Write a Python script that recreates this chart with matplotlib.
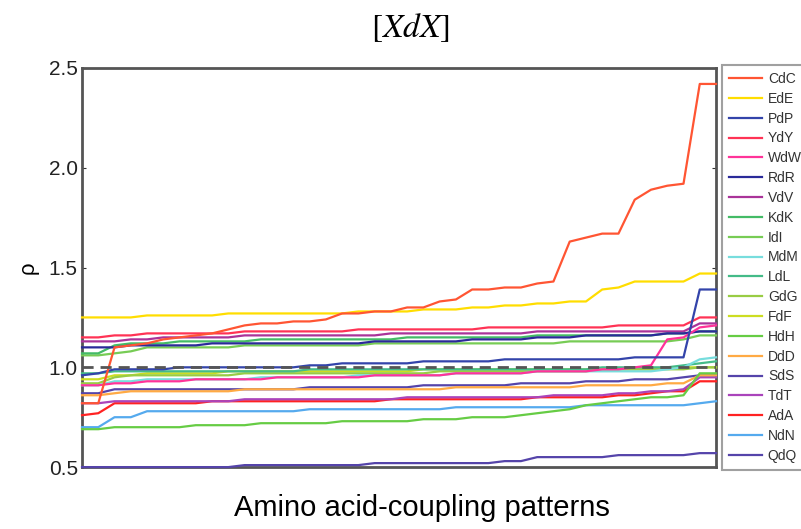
import numpy as np
import matplotlib.pyplot as plt

plt.rcParams['font.family'] = ['Liberation Sans', 'DejaVu Sans']
plt.rcParams['mathtext.fontset'] = 'stix'

LABELS = ['CdC', 'EdE', 'PdP', 'YdY', 'WdW', 'RdR', 'VdV', 'KdK', 'IdI', 'MdM',
          'LdL', 'GdG', 'FdF', 'HdH', 'DdD', 'SdS', 'TdT', 'AdA', 'NdN', 'QdQ']
COLORS = ['#ff5533', '#ffdd00', '#3344aa', '#ff3355', '#ff3399', '#2a2a99',
          '#aa3399', '#44bb66', '#77cc55', '#77dddd', '#44bb88', '#99cc44',
          '#ccdd22', '#66cc44', '#ffaa44', '#5544aa', '#aa44bb', '#ff2222',
          '#55aaee', '#5544aa']

CDC = [0.82, 0.82, 1.10, 1.11, 1.12, 1.14, 1.15, 1.16, 1.17, 1.19, 1.21, 1.22, 1.22, 1.23,
       1.23, 1.24, 1.27, 1.27, 1.28, 1.28, 1.30, 1.30, 1.33, 1.34, 1.39, 1.39, 1.40, 1.40,
       1.42, 1.43, 1.63, 1.65, 1.67, 1.67, 1.84, 1.89, 1.91, 1.92, 2.42, 2.42]
EDE = [1.25, 1.25, 1.25, 1.25, 1.26, 1.26, 1.26, 1.26, 1.26, 1.27, 1.27, 1.27, 1.27, 1.27,
       1.27, 1.27, 1.27, 1.28, 1.28, 1.28, 1.28, 1.29, 1.29, 1.29, 1.30, 1.30, 1.31, 1.31,
       1.32, 1.32, 1.33, 1.33, 1.39, 1.40, 1.43, 1.43, 1.43, 1.43, 1.47, 1.47]
PDP = [0.96, 0.97, 0.99, 0.99, 0.99, 0.99, 1.00, 1.00, 1.00, 1.00, 1.00, 1.00, 1.00, 1.00,
       1.01, 1.01, 1.02, 1.02, 1.02, 1.02, 1.02, 1.03, 1.03, 1.03, 1.03, 1.03, 1.04, 1.04,
       1.04, 1.04, 1.04, 1.04, 1.04, 1.04, 1.05, 1.05, 1.05, 1.05, 1.39, 1.39]
YDY = [1.15, 1.15, 1.16, 1.16, 1.17, 1.17, 1.17, 1.17, 1.17, 1.17, 1.18, 1.18, 1.18, 1.18,
       1.18, 1.18, 1.18, 1.19, 1.19, 1.19, 1.19, 1.19, 1.19, 1.19, 1.19, 1.20, 1.20, 1.20,
       1.20, 1.20, 1.20, 1.20, 1.20, 1.21, 1.21, 1.21, 1.21, 1.21, 1.25, 1.25]
WDW = [0.91, 0.91, 0.92, 0.92, 0.93, 0.93, 0.93, 0.94, 0.94, 0.94, 0.94, 0.94, 0.95, 0.95,
       0.95, 0.95, 0.95, 0.95, 0.96, 0.96, 0.96, 0.96, 0.96, 0.97, 0.97, 0.97, 0.97, 0.97,
       0.98, 0.98, 0.98, 0.98, 0.99, 0.99, 1.00, 1.01, 1.14, 1.15, 1.20, 1.21]
RDR = [1.10, 1.10, 1.10, 1.11, 1.11, 1.11, 1.11, 1.11, 1.12, 1.12, 1.12, 1.12, 1.12, 1.12,
       1.12, 1.12, 1.12, 1.12, 1.13, 1.13, 1.13, 1.13, 1.13, 1.13, 1.14, 1.14, 1.14, 1.14,
       1.15, 1.15, 1.15, 1.16, 1.16, 1.16, 1.16, 1.16, 1.17, 1.17, 1.18, 1.18]
VDV = [1.13, 1.13, 1.13, 1.14, 1.14, 1.15, 1.15, 1.15, 1.15, 1.15, 1.16, 1.16, 1.16, 1.16,
       1.16, 1.16, 1.16, 1.16, 1.16, 1.17, 1.17, 1.17, 1.17, 1.17, 1.17, 1.17, 1.17, 1.17,
       1.18, 1.18, 1.18, 1.18, 1.18, 1.18, 1.18, 1.18, 1.18, 1.18, 1.22, 1.22]
KDK = [1.07, 1.07, 1.11, 1.12, 1.12, 1.12, 1.13, 1.13, 1.13, 1.13, 1.13, 1.14, 1.14, 1.14,
       1.14, 1.14, 1.14, 1.14, 1.14, 1.14, 1.15, 1.15, 1.15, 1.15, 1.15, 1.15, 1.15, 1.15,
       1.16, 1.16, 1.16, 1.16, 1.16, 1.16, 1.16, 1.16, 1.17, 1.17, 1.18, 1.18]
IDI = [1.06, 1.06, 1.07, 1.08, 1.10, 1.10, 1.10, 1.10, 1.10, 1.10, 1.11, 1.11, 1.11, 1.11,
       1.11, 1.11, 1.11, 1.11, 1.12, 1.12, 1.12, 1.12, 1.12, 1.12, 1.12, 1.12, 1.12, 1.12,
       1.12, 1.12, 1.13, 1.13, 1.13, 1.13, 1.13, 1.13, 1.13, 1.14, 1.16, 1.16]
MDM = [0.91, 0.91, 0.93, 0.93, 0.94, 0.94, 0.94, 0.94, 0.94, 0.94, 0.94, 0.95, 0.95, 0.95,
       0.95, 0.95, 0.95, 0.96, 0.96, 0.96, 0.96, 0.96, 0.96, 0.97, 0.97, 0.97, 0.97, 0.97,
       0.98, 0.98, 0.98, 0.98, 0.98, 0.98, 0.98, 0.98, 0.99, 1.00, 1.04, 1.05]
LDL = [0.97, 0.97, 0.98, 0.98, 0.98, 0.98, 0.98, 0.98, 0.98, 0.98, 0.98, 0.98, 0.98, 0.98,
       0.99, 0.99, 0.99, 0.99, 0.99, 0.99, 0.99, 0.99, 0.99, 0.99, 0.99, 0.99, 0.99, 0.99,
       0.99, 0.99, 0.99, 0.99, 1.00, 1.00, 1.00, 1.00, 1.00, 1.01, 1.02, 1.03]
GDG = [0.92, 0.92, 0.95, 0.96, 0.96, 0.96, 0.96, 0.96, 0.96, 0.96, 0.97, 0.97, 0.97, 0.97,
       0.97, 0.97, 0.97, 0.97, 0.97, 0.97, 0.97, 0.97, 0.98, 0.98, 0.98, 0.98, 0.98, 0.98,
       0.98, 0.98, 0.98, 0.98, 0.99, 0.99, 0.99, 0.99, 0.99, 0.99, 1.00, 1.00]
FDF = [0.94, 0.94, 0.96, 0.96, 0.97, 0.97, 0.97, 0.97, 0.97, 0.98, 0.98, 0.98, 0.98, 0.98,
       0.98, 0.98, 0.98, 0.98, 0.98, 0.98, 0.98, 0.99, 0.99, 0.99, 0.99, 0.99, 0.99, 0.99,
       0.99, 0.99, 0.99, 0.99, 0.99, 0.99, 0.99, 0.99, 1.00, 1.00, 1.00, 1.00]
HDH = [0.69, 0.69, 0.70, 0.70, 0.70, 0.70, 0.70, 0.71, 0.71, 0.71, 0.71, 0.72, 0.72, 0.72,
       0.72, 0.72, 0.73, 0.73, 0.73, 0.73, 0.73, 0.74, 0.74, 0.74, 0.75, 0.75, 0.75, 0.76,
       0.77, 0.78, 0.79, 0.81, 0.82, 0.83, 0.84, 0.85, 0.85, 0.86, 0.97, 0.97]
DDD = [0.86, 0.86, 0.87, 0.88, 0.88, 0.88, 0.88, 0.88, 0.88, 0.88, 0.89, 0.89, 0.89, 0.89,
       0.89, 0.89, 0.89, 0.89, 0.89, 0.89, 0.89, 0.89, 0.89, 0.90, 0.90, 0.90, 0.90, 0.90,
       0.90, 0.90, 0.90, 0.91, 0.91, 0.91, 0.91, 0.91, 0.92, 0.92, 0.96, 0.96]
SDS = [0.87, 0.87, 0.89, 0.89, 0.89, 0.89, 0.89, 0.89, 0.89, 0.89, 0.89, 0.89, 0.89, 0.89,
       0.90, 0.90, 0.90, 0.90, 0.90, 0.90, 0.90, 0.91, 0.91, 0.91, 0.91, 0.91, 0.91, 0.92,
       0.92, 0.92, 0.92, 0.93, 0.93, 0.93, 0.94, 0.94, 0.94, 0.95, 0.96, 0.96]
TDT = [0.82, 0.82, 0.83, 0.83, 0.83, 0.83, 0.83, 0.83, 0.83, 0.83, 0.84, 0.84, 0.84, 0.84,
       0.84, 0.84, 0.84, 0.84, 0.84, 0.84, 0.85, 0.85, 0.85, 0.85, 0.85, 0.85, 0.85, 0.85,
       0.85, 0.86, 0.86, 0.86, 0.86, 0.87, 0.87, 0.88, 0.88, 0.89, 0.95, 0.95]
ADA = [0.76, 0.77, 0.82, 0.82, 0.82, 0.82, 0.82, 0.82, 0.83, 0.83, 0.83, 0.83, 0.83, 0.83,
       0.83, 0.83, 0.83, 0.83, 0.83, 0.84, 0.84, 0.84, 0.84, 0.84, 0.84, 0.84, 0.84, 0.84,
       0.85, 0.85, 0.85, 0.85, 0.85, 0.86, 0.86, 0.87, 0.88, 0.88, 0.93, 0.93]
NDN = [0.70, 0.70, 0.75, 0.75, 0.78, 0.78, 0.78, 0.78, 0.78, 0.78, 0.78, 0.78, 0.78, 0.78,
       0.79, 0.79, 0.79, 0.79, 0.79, 0.79, 0.79, 0.79, 0.79, 0.80, 0.80, 0.80, 0.80, 0.80,
       0.80, 0.80, 0.80, 0.81, 0.81, 0.81, 0.81, 0.81, 0.81, 0.81, 0.82, 0.83]
QDQ = [0.50, 0.50, 0.50, 0.50, 0.50, 0.50, 0.50, 0.50, 0.50, 0.50, 0.51, 0.51, 0.51, 0.51,
       0.51, 0.51, 0.51, 0.51, 0.52, 0.52, 0.52, 0.52, 0.52, 0.52, 0.52, 0.52, 0.53, 0.53,
       0.55, 0.55, 0.55, 0.55, 0.55, 0.56, 0.56, 0.56, 0.56, 0.56, 0.57, 0.57]

SERIES = [CDC, EDE, PDP, YDY, WDW, RDR, VDV, KDK, IDI, MDM,
          LDL, GDG, FDF, HDH, DDD, SDS, TDT, ADA, NDN, QDQ]

fig = plt.figure(figsize=(8.01, 5.29), dpi=100)
ax = fig.add_axes([0.1024, 0.117, 0.7915, 0.7545])

x = np.arange(len(CDC))
# draw from the bottom of the legend up so the top entries sit on top
for vals, lab, col in reversed(list(zip(SERIES, LABELS, COLORS))):
    ax.plot(x, vals, color=col, lw=1.6, label=lab, zorder=3, clip_on=False)

ax.axhline(1.0, color='#555555', lw=2, ls=(0, (4, 2.5)), zorder=5)

ax.set_xlim(0, len(CDC) - 1)
ax.set_ylim(0.5, 2.5)
ax.set_xticks([])
ax.set_yticks([0.5, 1.0, 1.5, 2.0, 2.5])
ax.set_yticklabels(['0.5', '1.0', '1.5', '2.0', '2.5'])
ax.tick_params(axis='y', direction='in', length=3, right=True, labelsize=15,
               pad=3, colors='#333333', labelcolor='#222222')
for sp in ax.spines.values():
    sp.set_color('#555555')
    sp.set_linewidth(2)

ax.set_ylabel('ρ', fontsize=16, rotation=90)
ax.yaxis.set_label_coords(-0.068, 0.5)
ax.set_xlabel('Amino acid-coupling patterns', fontsize=21)
ax.xaxis.set_label_coords(0.536, -0.068)

fig.text(0.512, 0.947, r'$[XdX]$', fontsize=24, ha='center', va='center')

handles, labels = ax.get_legend_handles_labels()
leg = ax.legend(handles[::-1], labels[::-1], loc='upper left',
                bbox_to_anchor=(1.0095, 1.0075), fontsize=10, frameon=True,
                fancybox=False, labelspacing=0.42, borderpad=0.5,
                handlelength=2.4, handletextpad=0.4, borderaxespad=0)
leg.get_frame().set_edgecolor('#888888')
leg.get_frame().set_linewidth(1.5)
for t in leg.get_texts():
    t.set_color('#333333')

fig.savefig('out.png', dpi=100)
